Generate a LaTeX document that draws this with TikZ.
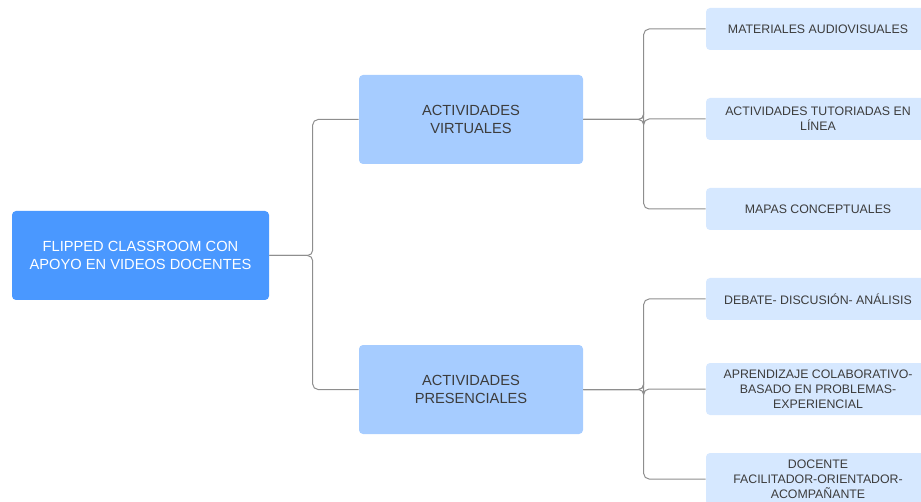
\documentclass[tikz,border=0pt]{standalone}
\usepackage{fontspec}
\setmainfont{Liberation Sans}
\usetikzlibrary{positioning, calc}
\definecolor{rootblue}{HTML}{4A98FF}
\definecolor{midblue}{HTML}{A6CCFF}
\definecolor{leafblue}{HTML}{D6E8FF}
\definecolor{inkgray}{HTML}{3C3C3C}
\definecolor{linegray}{HTML}{8E8E8E}
\tikzset{
    rootbox/.style={fill=rootblue, text=white, rounded corners=3pt, align=center,
        minimum width=192.75pt, minimum height=66.75pt, inner sep=0pt,
        font=\fontsize{11}{13.75}\selectfont},
    midbox/.style={fill=midblue, text=inkgray, rounded corners=3pt, align=center,
        minimum width=168pt, minimum height=66.75pt, inner sep=0pt,
        font=\fontsize{11}{13.75}\selectfont},
    leafbox/.style={fill=leafblue, text=inkgray, rounded corners=3pt, align=center,
        minimum width=168pt, minimum height=31.5pt, inner sep=0pt,
        font=\fontsize{9.25}{11.25}\selectfont},
    conn/.style={draw=linegray, line width=0.75pt, rounded corners=4pt}
}
\begin{document}
\begin{tikzpicture}[x=0.75pt, y=-0.75pt]
    % Frame in pixel units (y grows downwards)
    \useasboundingbox (0,0) rectangle (921,502);
    \clip (0,0) rectangle (921,502);

    % Root and the two branches
    \node[rootbox] (root) at (140.5,255.5) {FLIPPED CLASSROOM CON\\APOYO EN VIDEOS DOCENTES};
    \node[midbox] (virt) at (471,119.5) {ACTIVIDADES\\VIRTUALES};
    \node[midbox] (pres) at (471,389.5) {ACTIVIDADES\\PRESENCIALES};

    % Leaves, cut by the right edge
    \node[leafbox] (mat) at (818,29) {MATERIALES AUDIOVISUALES};
    \node[leafbox] (tut) at (818,119) {ACTIVIDADES TUTORIADAS EN\\LÍNEA};
    \node[leafbox] (map) at (818,209) {MAPAS CONCEPTUALES};
    \node[leafbox] (deb) at (818,299) {DEBATE- DISCUSIÓN- ANÁLISIS};
    \node[leafbox, minimum height=39pt] (apr) at (818,389) {APRENDIZAJE COLABORATIVO-\\BASADO EN PROBLEMAS-\\EXPERIENCIAL};
    \node[leafbox, minimum height=39pt] (doc) at (818,479) {DOCENTE\\FACILITADOR-ORIENTADOR-\\ACOMPAÑANTE};

    % Brackets
    \foreach \m in {virt,pres}
        \draw[conn] (root.east) -| ([xshift=-34.5pt]\m.west) -- (\m.west);
    \foreach \l in {mat,tut,map}
        \draw[conn] (virt.east) -| ([xshift=-46.5pt]\l.west) -- (\l.west);
    \foreach \l in {deb,apr,doc}
        \draw[conn] (pres.east) -| ([xshift=-46.5pt]\l.west) -- (\l.west);
\end{tikzpicture}
\end{document}
